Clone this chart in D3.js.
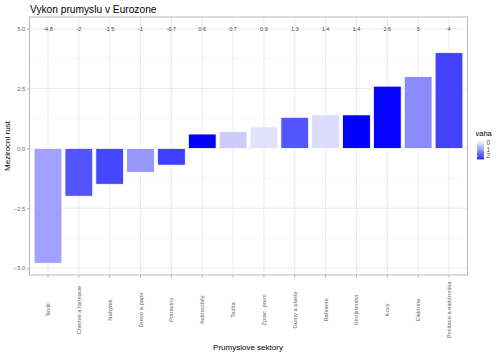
<!DOCTYPE html>
<html><head><meta charset="utf-8">
<script src="https://cdn.jsdelivr.net/npm/d3@7"></script>
<style>body{margin:0;background:#fff}svg{display:block}text{font-family:"Liberation Sans",Arial,sans-serif}</style>
</head><body><svg id="c" width="500" height="356"></svg>
<script>
const categories = ["Textil","Chemie a farmacie","Nabytek","Drevo a papir","Potraviny","Automobily","Tezba","Zprac. prum","Gumy a plasty","Rafinerie","Strojirenstvi","Kovy","Elektrina","Pocitace a elektronika"];
const growth = [-4.8,-2,-1.5,-1,-0.7,0.6,0.7,0.9,1.3,1.4,1.4,2.6,3,4];
const weights = [0.93,1.9,2.1,1.05,2.2,3,0.36,0.08,1.9,0.15,3,2.95,1.2,2.15];
const yTicks = [-5,-2.5,0,2.5,5];
const legendTicks = [0,1,2];

const svg = d3.select("#c");
const L=29.5, R=467.5, T=17, B=275;
const x = d3.scaleLinear().domain([-0.6, categories.length-1+0.6]).range([L,R]);
const y = d3.scaleLinear().domain([-5.29,5.49]).range([B,T]);
const color = d3.scaleLinear().domain([0,3]).range(["#e8e8fc","#0000ff"]);
const bw = (x(1)-x(0))*0.9;

// grid
const minor = [-3.75,-1.25,1.25,3.75];
svg.append("g").selectAll("line").data(minor).join("line")
  .attr("x1",L).attr("x2",R).attr("y1",d=>y(d)).attr("y2",d=>y(d))
  .attr("stroke","#f3f3f3").attr("stroke-width",0.5);
svg.append("g").selectAll("line").data(yTicks).join("line")
  .attr("x1",L).attr("x2",R).attr("y1",d=>y(d)).attr("y2",d=>y(d))
  .attr("stroke","#e6e6e6").attr("stroke-width",0.8);
svg.append("g").selectAll("line").data(categories).join("line")
  .attr("y1",T).attr("y2",B).attr("x1",(d,i)=>x(i)).attr("x2",(d,i)=>x(i))
  .attr("stroke","#e6e6e6").attr("stroke-width",0.8);

// bars
svg.append("g").selectAll("rect").data(growth).join("rect")
  .attr("x",(d,i)=>x(i)-bw/2).attr("width",bw)
  .attr("y",d=>y(Math.max(0,d))).attr("height",d=>Math.abs(y(d)-y(0)))
  .attr("fill",(d,i)=>color(weights[i])).attr("stroke","#fff").attr("stroke-width",0.8);

// value labels
svg.append("g").selectAll("text").data(growth).join("text")
  .attr("x",(d,i)=>x(i)).attr("y",y(5)).attr("dy","0.35em")
  .attr("text-anchor","middle").attr("font-size",5.5).attr("fill","#444")
  .text(d=>d);

// border
svg.append("rect").attr("x",L).attr("y",T).attr("width",R-L).attr("height",B-T)
  .attr("fill","none").attr("stroke","#b3b3b3").attr("stroke-width",0.9);

// y axis
const yAxis = svg.append("g").attr("transform",`translate(${L},0)`)
  .call(d3.axisLeft(y).tickValues(yTicks).tickFormat(d3.format(".1f")).tickSize(2.7).tickPadding(1.5));
yAxis.select(".domain").remove();
yAxis.selectAll("line").attr("stroke","#b3b3b3");
yAxis.selectAll("text").attr("font-size",5.8).attr("fill","#666").attr("font-family","Liberation Sans, Arial, sans-serif");

// x ticks
svg.append("g").selectAll("line").data(categories).join("line")
  .attr("x1",(d,i)=>x(i)).attr("x2",(d,i)=>x(i)).attr("y1",B).attr("y2",B+2.7)
  .attr("stroke","#b3b3b3");
svg.append("g").selectAll("text").data(categories).join("text")
  .attr("transform",(d,i)=>`translate(${x(i)},310) rotate(-90)`)
  .attr("text-anchor","middle").attr("dy","0.35em")
  .attr("font-size",5.8).attr("fill","#666").text(d=>d);

// titles
svg.append("text").attr("x",30).attr("y",12.5).attr("font-size",10.2).attr("fill","#000").text("Vykon prumyslu v Eurozone");
svg.append("text").attr("x",248).attr("y",350).attr("text-anchor","middle").attr("font-size",8).attr("fill","#000").text("Prumyslove sektory");
svg.append("text").attr("transform","translate(10,146) rotate(-90)").attr("text-anchor","middle")
  .attr("font-size",8).attr("fill","#000").text("Mezirocni rust");

// legend
svg.append("text").attr("x",475.5).attr("y",136).attr("font-size",7.5).attr("fill","#000").text("vaha");
const ly = d3.scaleLinear().domain([0,2]).range([142.5,156]);
const defs = svg.append("defs");
const grad = defs.append("linearGradient").attr("id","lg").attr("x1",0).attr("x2",0).attr("y1",0).attr("y2",1);
const lMin=-0.7, lMax=2.5;
d3.range(0,1.01,0.1).forEach(t=>{
  grad.append("stop").attr("offset",t).attr("stop-color",color(lMin+(lMax-lMin)*t));
});
svg.append("rect").attr("x",477).attr("y",ly(lMin)).attr("width",7).attr("height",ly(lMax)-ly(lMin)).attr("fill","url(#lg)");
svg.append("g").selectAll("line").data(legendTicks).join("line")
  .attr("x1",477).attr("x2",478.5).attr("y1",d=>ly(d)).attr("y2",d=>ly(d)).attr("stroke","#fff").attr("stroke-width",0.5);
svg.append("g").selectAll("line").data(legendTicks).join("line")
  .attr("x1",482.5).attr("x2",484).attr("y1",d=>ly(d)).attr("y2",d=>ly(d)).attr("stroke","#fff").attr("stroke-width",0.5);
svg.append("g").selectAll("text").data(legendTicks).join("text")
  .attr("x",486.5).attr("y",d=>ly(d)).attr("dy","0.35em").attr("font-size",6.5).attr("fill","#4d4d4d").text(d=>d);
</script></body></html>
